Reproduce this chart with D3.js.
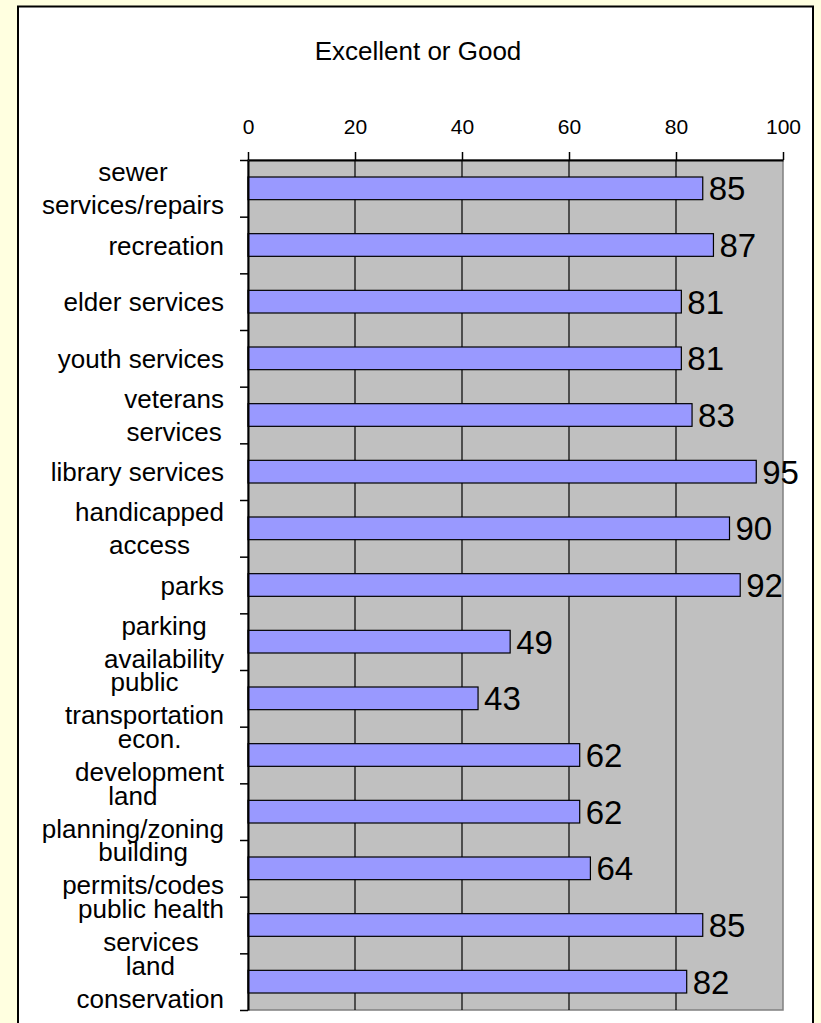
<!DOCTYPE html>
<html>
<head>
<meta charset="utf-8">
<script src="https://cdn.jsdelivr.net/npm/d3@7"></script>
<style>
  html, body { margin: 0; padding: 0; background: #FFFFE0; }
  svg { display: block; }
  text { font-family: "Liberation Sans", Arial, sans-serif; fill: #000; }
</style>
</head>
<body>
<svg id="chart" width="821" height="1023"></svg>
<script>
// ---- data ----
const chartTitle = "Excellent or Good";
const categories = [
  ["sewer", "services/repairs"],
  ["recreation"],
  ["elder services"],
  ["youth services"],
  ["veterans", "services"],
  ["library services"],
  ["handicapped", "access"],
  ["parks"],
  ["parking", "availability"],
  ["public", "transportation"],
  ["econ.", "development"],
  ["land", "planning/zoning"],
  ["building", "permits/codes"],
  ["public health", "services"],
  ["land", "conservation"]
];
const values = [85, 87, 81, 81, 83, 95, 90, 92, 49, 43, 62, 62, 64, 85, 82];
const tickValues = [0, 20, 40, 60, 80, 100];

// ---- layout ----
const svg = d3.select("#chart");
const W = 821, H = 1023;
const plot = { left: 248, top: 160, right: 783, bottom: 1010 };

svg.append("rect").attr("x", 0).attr("y", 0).attr("width", W).attr("height", H).attr("fill", "#FFFFE0");
svg.append("rect").attr("x", 18).attr("y", 6.5).attr("width", 795).attr("height", 1030)
  .attr("fill", "#fff").attr("stroke", "#000").attr("stroke-width", 2);

const x = d3.scaleLinear().domain([0, 100]).range([plot.left, plot.right]);
const idx = d3.range(categories.length);
const y = d3.scaleBand().domain(idx).range([plot.top, plot.bottom]).paddingInner(0.6).paddingOuter(0.3);
const yb = d3.scaleLinear().domain([0, categories.length]).range([plot.top, plot.bottom]);

// plot area
svg.append("rect").attr("x", plot.left).attr("y", plot.top)
  .attr("width", plot.right - plot.left).attr("height", plot.bottom - plot.top)
  .attr("fill", "#C0C0C0").attr("stroke", "#808080").attr("stroke-width", 1.5);

// gridlines
svg.append("g").selectAll("line").data(tickValues.filter(v => v > 0 && v < 100)).join("line")
  .attr("x1", d => x(d)).attr("x2", d => x(d))
  .attr("y1", plot.top).attr("y2", plot.bottom)
  .attr("stroke", "#000").attr("stroke-width", 1.2);

// bars
svg.append("g").selectAll("rect").data(values).join("rect")
  .attr("x", x(0)).attr("y", (d, i) => y(i))
  .attr("width", d => x(d) - x(0)).attr("height", y.bandwidth())
  .attr("fill", "#9999FF").attr("stroke", "#000").attr("stroke-width", 1.2);

// value labels
svg.append("g").selectAll("text").data(values).join("text")
  .attr("x", d => x(d) + 6)
  .attr("y", (d, i) => y(i) + y.bandwidth() / 2 + 12)
  .attr("font-size", 33)
  .text(d => d);

// top value axis
const xAxis = d3.axisTop(x).tickValues(tickValues).tickSize(8).tickPadding(18).tickSizeOuter(0);
const gx = svg.append("g").attr("transform", `translate(0,${plot.top})`).call(xAxis);
gx.select(".domain").attr("stroke", "#000").attr("stroke-width", 2);
gx.selectAll(".tick line").attr("stroke", "#000").attr("stroke-width", 1.5);
gx.selectAll(".tick text").attr("font-size", 21).attr("font-family", "Liberation Sans, Arial, sans-serif").attr("fill", "#000");

// left category axis (ticks at band boundaries)
const yAxis = d3.axisLeft(yb).tickValues(d3.range(categories.length + 1)).tickFormat("").tickSize(8).tickSizeOuter(0);
const gy = svg.append("g").attr("transform", `translate(${plot.left},0)`).call(yAxis);
gy.select(".domain").attr("stroke", "#000").attr("stroke-width", 2);
gy.selectAll(".tick line").attr("stroke", "#000").attr("stroke-width", 1.5);

// category labels
const labelRight = 224, lineH = 33, catFont = 26;
const gl = svg.append("g");
categories.forEach((lines, i) => {
  const cy = y(i) + y.bandwidth() / 2;
  const g = gl.append("g");
  const texts = lines.map((s, j) => g.append("text")
    .attr("font-size", catFont)
    .attr("text-anchor", "middle")
    .attr("y", cy + (j - (lines.length - 1) / 2) * lineH + 9.5)
    .text(s));
  const maxW = d3.max(texts, t => t.node().getComputedTextLength());
  texts.forEach(t => t.attr("x", labelRight - maxW / 2));
});

// title
svg.append("text").attr("x", 418).attr("y", 60).attr("text-anchor", "middle")
  .attr("font-size", 26).text(chartTitle);
</script>
</body>
</html>
